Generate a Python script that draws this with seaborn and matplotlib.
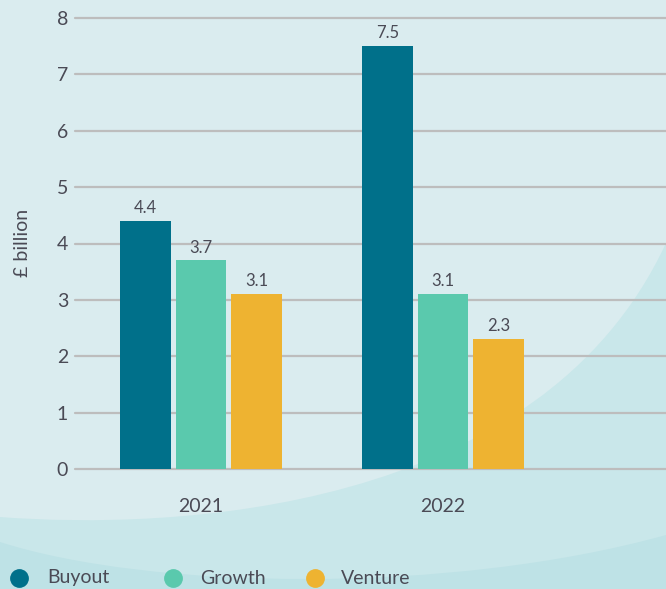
import matplotlib
matplotlib.use("Agg")
import matplotlib.pyplot as plt
from matplotlib.path import Path
from matplotlib.patches import PathPatch
from matplotlib.lines import Line2D
import seaborn as sns
import pandas as pd

# ---- data ----
years = ["2021", "2022"]
series = ["Buyout", "Growth", "Venture"]
buyout = [4.4, 7.5]
growth = [3.7, 3.1]
venture = [3.1, 2.3]
yticks = [0, 1, 2, 3, 4, 5, 6, 7, 8]
colors = ["#00708A", "#5AC9AD", "#EEB331"]

df = pd.DataFrame({
    "year": years * 3,
    "type": [s for s in series for _ in years],
    "value": buyout + growth + venture,
})

sns.set_theme(style="white")
plt.rcParams["font.family"] = ["Lato", "DejaVu Sans"]
TXT = "#4A4A55"

W, H = 666, 589
fig = plt.figure(figsize=(W / 100, H / 100), dpi=100)
LIGHT, MED, DARK = "#DAECEF", "#C9E7EA", "#BEE2E6"
fig.patch.set_facecolor(MED)


def fp(x, y):
    return (x / W, 1 - y / H)


# light region above curve A
vA = [fp(0, 517), fp(170, 530), fp(540, 515), fp(666, 243), fp(666, 0), fp(0, 0), fp(0, 517)]
cA = [Path.MOVETO, Path.CURVE4, Path.CURVE4, Path.CURVE4, Path.LINETO, Path.LINETO, Path.CLOSEPOLY]
fig.add_artist(PathPatch(Path(vA, cA), facecolor=LIGHT, edgecolor="none",
                         transform=fig.transFigure, zorder=-2))
# darker region below curve B
vB = [fp(0, 542), fp(150, 590), fp(450, 595), fp(666, 535), fp(666, 589), fp(0, 589), fp(0, 542)]
cB = [Path.MOVETO, Path.CURVE4, Path.CURVE4, Path.CURVE4, Path.LINETO, Path.LINETO, Path.CLOSEPOLY]
fig.add_artist(PathPatch(Path(vB, cB), facecolor=DARK, edgecolor="none",
                         transform=fig.transFigure, zorder=-2))

ax = fig.add_axes([75 / W, (H - 469) / H, (W - 75) / W, (469 - 18) / H])
ax.set_facecolor("none")

sns.barplot(data=df, x="year", y="value", hue="type", hue_order=series,
            palette=colors, saturation=1, width=0.69, gap=0.09, ax=ax,
            legend=False, errorbar=None, linewidth=0, edgecolor="none")

for c in ax.containers:
    ax.bar_label(c, fmt="%.1f", padding=3.5, fontsize=12, color=TXT)

ax.set_ylim(0, 8)
ax.set_xlim(-0.521, 1.921)
ax.set_yticks(yticks)
ax.set_yticklabels([str(v) for v in yticks])
ax.yaxis.grid(True, color="#BDBDBD", linewidth=1.6)
ax.xaxis.grid(False)
ax.set_axisbelow(True)
for gl in ax.get_ygridlines():
    gl.set_clip_on(False)
for s in ax.spines.values():
    s.set_visible(False)
ax.tick_params(axis="y", length=0, pad=5, labelsize=14, labelcolor=TXT)
ax.tick_params(axis="x", length=0, pad=21, labelsize=14, labelcolor=TXT)
ax.set_xlabel("")
ax.set_ylabel("")

fig.text(22 / W, 1 - 243 / H, "£ billion", rotation=90, ha="center", va="center",
         fontsize=14, color=TXT)

# legend
leg_x = [18.5, 173, 315]
txt_x = [47, 200, 341]
ly = 1 - 578 / H
for name, col, cx, tx in zip(series, colors, leg_x, txt_x):
    fig.add_artist(Line2D([cx / W], [ly], marker="o", markersize=12.5, color=col,
                          linestyle="none", transform=fig.transFigure))
    fig.text(tx / W, ly, name, ha="left", va="center", fontsize=14, color=TXT)

fig.savefig("out.png", dpi=100, facecolor=fig.get_facecolor())
